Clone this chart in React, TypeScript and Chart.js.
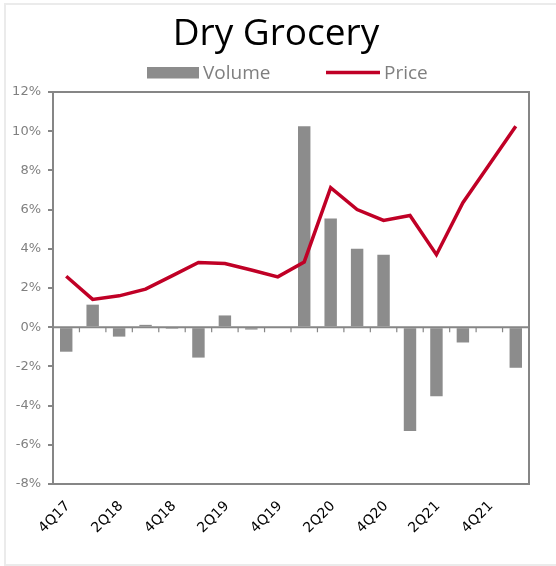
import React, { useEffect, useRef, useState } from "react";
import { Chart, registerables } from "chart.js";

Chart.register(...registerables);

const TITLE = "Dry Grocery";
const categories = [
  "4Q17", "1Q18", "2Q18", "3Q18", "4Q18", "1Q19", "2Q19", "3Q19", "4Q19",
  "1Q20", "2Q20", "3Q20", "4Q20", "1Q21", "2Q21", "3Q21", "4Q21", "1Q22",
];
const volume = [
  -1.25, 1.15, -0.48, 0.12, -0.08, -1.55, 0.6, -0.12, -0.05,
  10.25, 5.55, 4.0, 3.7, -5.3, -3.52, -0.78, 0.05, -2.07,
];
const price = [
  2.6, 1.42, 1.6, 1.94, 2.62, 3.3, 3.25, 2.92, 2.57,
  3.33, 7.12, 6.0, 5.45, 5.7, 3.7, 6.35, 8.3, 10.25,
];
const Y_MIN = -8;
const Y_MAX = 12;
const Y_STEP = 2;

const GRAY_AXIS = "#868686";
const BAR_COLOR = "#8c8c8c";
const RED = "#c00026";

const decor = {
  id: "decor",
  beforeDraw(chart: any) {
    const ctx = chart.ctx;
    ctx.save();
    ctx.fillStyle = "#fff";
    ctx.fillRect(0, 0, chart.width, chart.height);
    ctx.strokeStyle = "#ebebeb";
    ctx.lineWidth = 2;
    ctx.strokeRect(5, 4, 700, 561);
    ctx.fillStyle = "#000";
    ctx.font = '37px "Open Sans"';
    ctx.textAlign = "center";
    ctx.textBaseline = "alphabetic";
    ctx.fillText(TITLE, 276, 45);
    ctx.fillStyle = BAR_COLOR;
    ctx.fillRect(147, 67, 52, 11.5);
    ctx.font = '19px "Open Sans"';
    ctx.textAlign = "left";
    ctx.fillStyle = "#7f7f7f";
    ctx.fillText("Volume", 203, 79);
    ctx.strokeStyle = RED;
    ctx.lineWidth = 3.5;
    ctx.beginPath();
    ctx.moveTo(326, 72.5);
    ctx.lineTo(380, 72.5);
    ctx.stroke();
    ctx.fillStyle = "#7f7f7f";
    ctx.fillText("Price", 384, 79);
    ctx.restore();
  },
  afterDatasetsDraw(chart: any) {
    const ctx = chart.ctx;
    const a = chart.chartArea;
    const y = chart.scales.y;
    const y0 = y.getPixelForValue(0);
    const n = categories.length;
    const w = (a.right - a.left) / n;
    ctx.save();
    ctx.strokeStyle = GRAY_AXIS;
    ctx.lineWidth = 2;
    ctx.beginPath();
    ctx.moveTo(a.left, y0);
    ctx.lineTo(a.right, y0);
    ctx.stroke();
    ctx.lineWidth = 1.2;
    ctx.beginPath();
    for (let i = 1; i < n; i++) {
      const xx = a.left + i * w;
      ctx.moveTo(xx, y0);
      ctx.lineTo(xx, y0 + 5);
    }
    ctx.stroke();
    ctx.lineWidth = 2;
    ctx.strokeRect(a.left, a.top, a.right - a.left, a.bottom - a.top);
    ctx.restore();
  },
};

type Lbl = { text: string; x: number; y: number };

export default function App() {
  const ref = useRef<HTMLCanvasElement | null>(null);
  const [labels, setLabels] = useState<Lbl[]>([]);
  useEffect(() => {
    if (!ref.current) return;
    const chart = new Chart(ref.current, {
      type: "bar",
      data: {
        labels: categories,
        datasets: [
          {
            type: "bar",
            label: "Volume",
            data: volume,
            backgroundColor: BAR_COLOR,
            borderWidth: 0,
            barPercentage: 0.47,
            categoryPercentage: 1,
            order: 2,
          },
          {
            type: "line",
            label: "Price",
            data: price,
            borderColor: RED,
            backgroundColor: RED,
            borderWidth: 3.5,
            pointRadius: 0,
            tension: 0,
            fill: false,
            order: 1,
          },
        ] as any,
      },
      options: {
        animation: false,
        responsive: false,
        layout: { padding: { top: 92, right: 27, left: 0, bottom: 0 } },
        plugins: {
          legend: { display: false },
          title: { display: false },
          tooltip: { enabled: false },
        },
        scales: {
          x: {
            grid: { display: false, drawTicks: false },
            border: { display: false },
            ticks: { display: false },
            afterFit: (s: any) => {
              s.height = 82;
            },
          },
          y: {
            min: Y_MIN,
            max: Y_MAX,
            grid: {
              drawOnChartArea: false,
              drawTicks: true,
              tickLength: 5,
              tickColor: GRAY_AXIS,
              lineWidth: 2,
            },
            border: { display: true, color: GRAY_AXIS, width: 2 },
            ticks: {
              stepSize: Y_STEP,
              padding: 7,
              color: "#808080",
              font: { family: '"DejaVu Sans"', size: 13 },
              callback: (v: any) => `${v}%`,
            },
            afterFit: (s: any) => {
              s.width = 53;
            },
          },
        },
      } as any,
      plugins: [decor],
    });
    const xs = chart.scales.x;
    const bottom = chart.chartArea.bottom;
    const out: Lbl[] = [];
    categories.forEach((c, i) => {
      if (i % 2 === 0) out.push({ text: c, x: xs.getPixelForValue(i) + 1, y: bottom + 19 });
    });
    setLabels(out);
    return () => chart.destroy();
  }, []);
  const W = 60;
  const H = 16;
  return (
    <div style={{ position: "fixed", left: 0, top: 0, width: 556, height: 566 }}>
      <canvas
        ref={ref}
        width={556}
        height={566}
        style={{ position: "absolute", left: 0, top: 0, display: "block" }}
      />
      {labels.map((l) => (
        <div
          key={l.text}
          style={{
            position: "absolute",
            left: l.x - W,
            top: l.y - H / 2,
            width: W,
            height: H,
            lineHeight: `${H}px`,
            textAlign: "right",
            whiteSpace: "nowrap",
            fontFamily: '"DejaVu Sans"',
            fontSize: 14,
            color: "#000",
            transform: "rotate(-45deg)",
            transformOrigin: "right center",
          }}
        >
          {l.text}
        </div>
      ))}
    </div>
  );
}
